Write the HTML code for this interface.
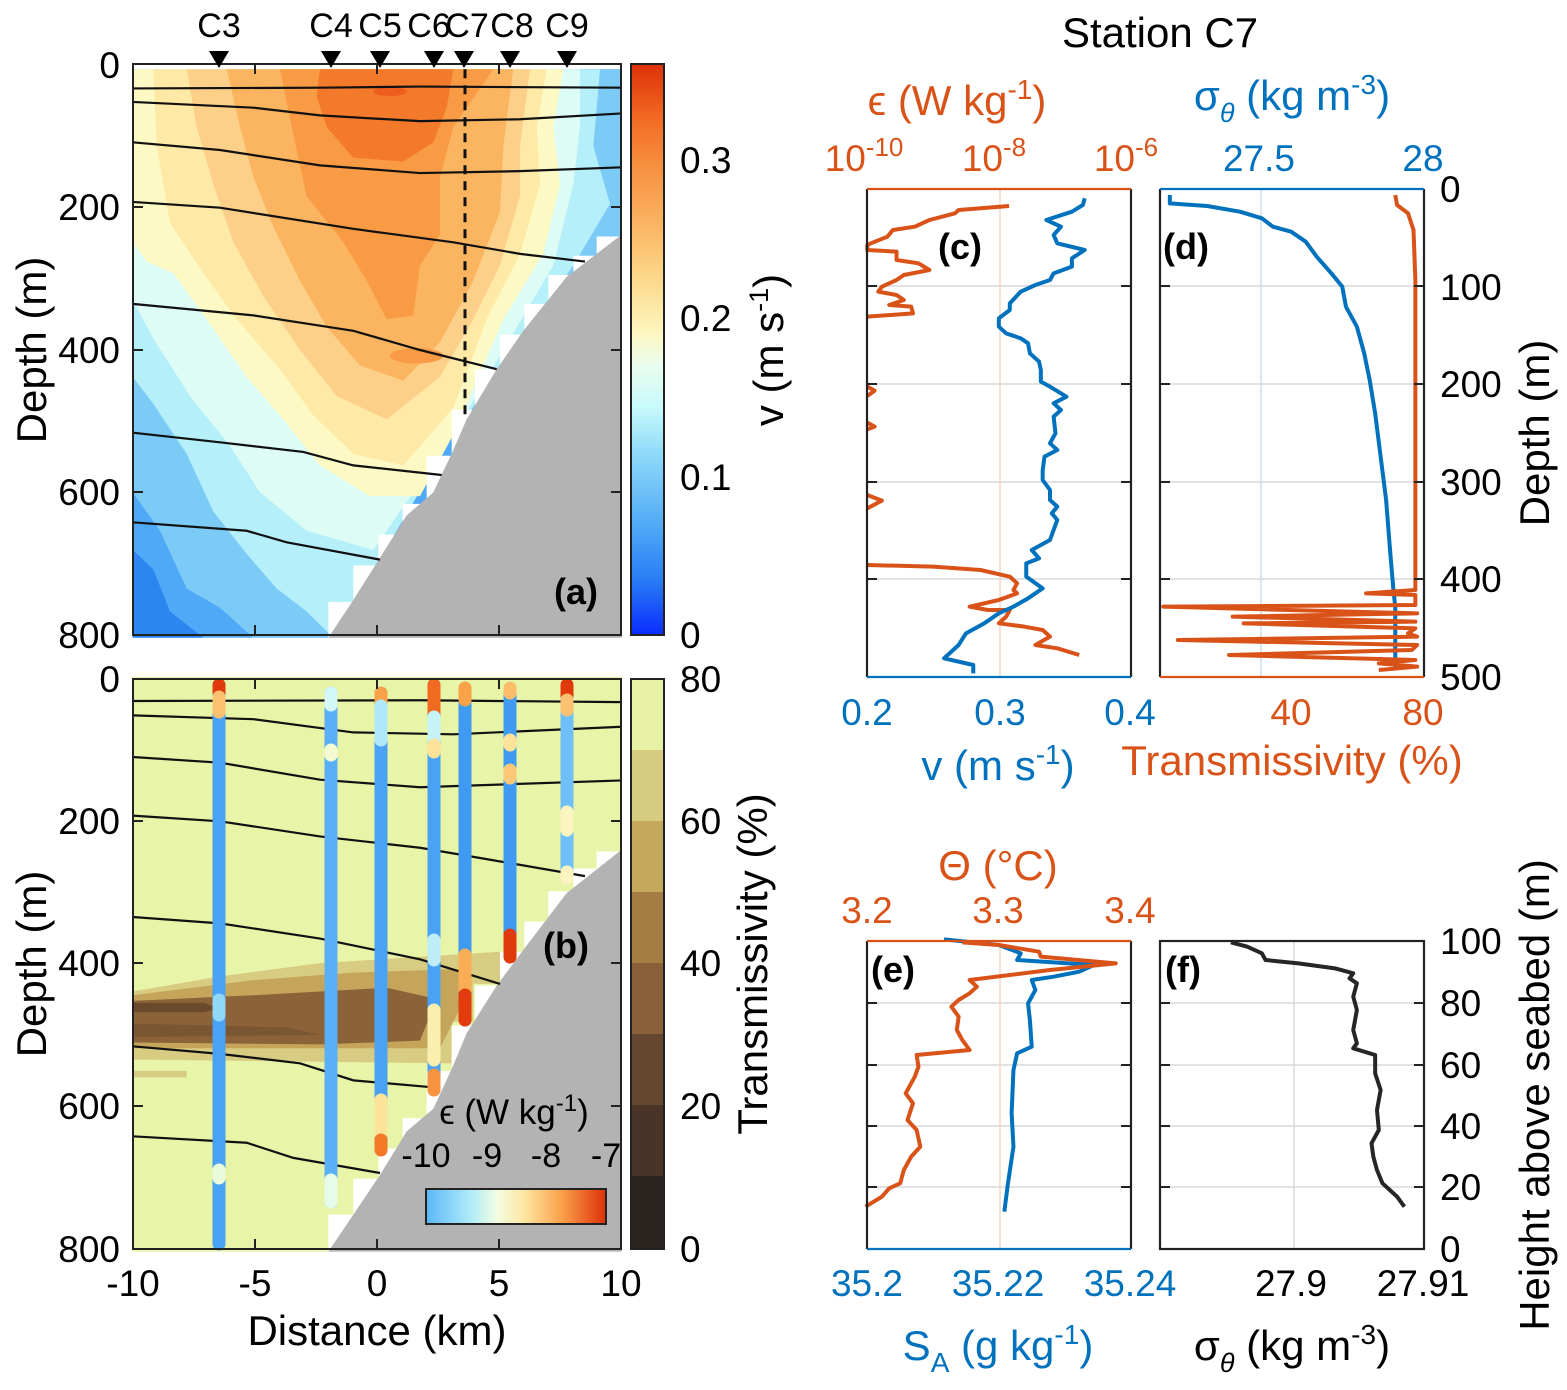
<!DOCTYPE html>
<html><head><meta charset="utf-8"><style>
body{margin:0;background:#fff}
svg{display:block}
text{font-family:"Liberation Sans",Arial,sans-serif;fill:#000}
.t{font-size:37px}
.L{font-size:42px}
.b{font-weight:bold;font-size:36px}
</style></head><body>
<svg width="1567" height="1390" viewBox="0 0 1567 1390" xmlns="http://www.w3.org/2000/svg">
<defs>
<linearGradient id="cba" x1="0" y1="1" x2="0" y2="0">
<stop offset="0" stop-color="#0a2cff"/><stop offset="0.1" stop-color="#2a7ff5"/><stop offset="0.2" stop-color="#55adf7"/><stop offset="0.32" stop-color="#90dbfa"/><stop offset="0.4" stop-color="#c8fafa"/><stop offset="0.47" stop-color="#e9fdf0"/><stop offset="0.53" stop-color="#fdf6c0"/><stop offset="0.62" stop-color="#fcd98c"/><stop offset="0.72" stop-color="#fbb462"/><stop offset="0.82" stop-color="#f79040"/><stop offset="0.9" stop-color="#f36d24"/><stop offset="1" stop-color="#dd3007"/>
</linearGradient>
<linearGradient id="cbe" x1="0" y1="0" x2="1" y2="0">
<stop offset="0" stop-color="#5ab8f8"/><stop offset="0.25" stop-color="#b0ecfa"/><stop offset="0.4" stop-color="#f4fde0"/><stop offset="0.55" stop-color="#fde6a0"/><stop offset="0.75" stop-color="#fba24c"/><stop offset="1" stop-color="#dd3007"/>
</linearGradient>
</defs>

<!-- ===== Panel a ===== -->
<g transform="translate(120,50) scale(0.33333,0.38462)">
<rect x="38" y="50" width="1467" height="1478" fill="#4fa9f7"/>
<polygon fill="#2b86f0" points="38,1300 100,1350 150,1460 250,1528 38,1528"/>
<polygon fill="#7ccbf7" points="38,50 1505,50 1505,480 1000,1000 640,1528 400,1528 300,1450 200,1400 120,1250 38,1150"/>
<polygon fill="#b5effa" points="38,50 1440,50 1420,250 1470,400 1360,560 1000,1000 640,1528 560,1460 470,1400 380,1310 280,1200 200,1050 100,920 38,850"/>
<polygon fill="#dcfcf5" points="38,50 1380,50 1380,200 1360,350 1300,560 1000,1000 760,1300 560,1250 420,1150 330,1030 210,900 100,750 38,650"/>
<polygon fill="#fdf9c4" points="38,50 1330,50 1300,200 1320,350 1270,530 1150,700 1000,1000 900,1160 750,1160 600,1080 480,950 380,850 260,700 160,580 80,550 38,500"/>
<polygon fill="#fee9a6" points="100,50 1280,50 1250,200 1260,350 1200,530 1100,700 1000,930 850,1080 700,1050 580,950 480,830 350,700 250,580 150,450 110,250"/>
<polygon fill="#fdd08a" points="200,50 1230,50 1200,250 1200,380 1140,560 1060,700 960,850 800,960 650,900 540,780 430,640 340,500 280,350 230,200"/>
<polygon fill="#fbb45f" points="320,50 1180,50 1150,250 1140,420 1060,600 960,760 850,860 720,820 620,720 540,600 460,460 400,330 360,200"/>
<polygon fill="#f99a45" points="480,50 1120,50 1000,200 960,330 960,480 900,560 880,690 800,700 740,600 670,500 560,380 520,220"/>
<polygon fill="#f47a2b" points="600,50 1000,50 980,150 940,240 850,290 700,280 620,200 590,120"/>
<ellipse cx="810" cy="108" rx="50" ry="12" fill="#ee5e1c"/>
<ellipse cx="890" cy="795" rx="80" ry="20" fill="#f99a45"/>
<polygon fill="#fff" points="625,1528 625,1435 700,1435 700,1340 775,1340 775,1260 848,1260 848,1180 920,1180 920,1055 995,1055 995,935 1065,935 1065,830 1140,830 1140,740 1213,740 1213,660 1285,660 1285,585 1360,585 1360,535 1430,535 1430,485 1505,485 1505,1528"/>
<polygon fill="#b3b3b3" points="625,1528 700,1430 780,1320 860,1210 940,1150 1000,1040 1040,960 1130,830 1210,730 1340,590 1505,480 1505,1528"/>
<g fill="none" stroke="#111" stroke-width="2.2">
<polyline vector-effect="non-scaling-stroke" points="38,100 600,98 900,95 1505,98"/>
<polyline vector-effect="non-scaling-stroke" points="38,135 400,150 600,170 900,185 1200,180 1505,165"/>
<polyline vector-effect="non-scaling-stroke" points="38,240 300,260 600,300 900,320 1200,315 1505,305"/>
<polyline vector-effect="non-scaling-stroke" points="38,395 300,410 700,465 1000,500 1200,530 1395,550"/>
<polyline vector-effect="non-scaling-stroke" points="38,660 400,690 700,730 900,780 1130,830"/>
<polyline vector-effect="non-scaling-stroke" points="38,995 300,1020 550,1045 700,1080 965,1105"/>
<polyline vector-effect="non-scaling-stroke" points="38,1228 380,1250 500,1280 780,1325"/>
</g>
<line x1="1035" y1="50" x2="1035" y2="950" stroke="#111" stroke-width="3" stroke-dasharray="9,7" vector-effect="non-scaling-stroke"/>
</g>
<rect x="133" y="64" width="488" height="571" fill="none" stroke="#222" stroke-width="2"/>
<g stroke="#222" stroke-width="2">
<line x1="255" y1="635" x2="255" y2="625"/><line x1="377" y1="635" x2="377" y2="625"/><line x1="499" y1="635" x2="499" y2="625"/>
<line x1="255" y1="64" x2="255" y2="74"/><line x1="377" y1="64" x2="377" y2="74"/><line x1="499" y1="64" x2="499" y2="74"/>
<line x1="133" y1="207" x2="143" y2="207"/><line x1="133" y1="350" x2="143" y2="350"/><line x1="133" y1="492" x2="143" y2="492"/>
<line x1="621" y1="207" x2="611" y2="207"/><line x1="621" y1="350" x2="611" y2="350"/><line x1="621" y1="492" x2="611" y2="492"/>
</g>
<text class="b" x="554" y="604">(a)</text>
<g fill="#000">
<polygon points="209,51 229,51 219,68"/><polygon points="321,51 341,51 331,68"/><polygon points="370,51 390,51 380,68"/><polygon points="424,51 444,51 434,68"/><polygon points="454,51 474,51 464,68"/><polygon points="500,51 520,51 510,68"/><polygon points="557,51 577,51 567,68"/>
</g>
<g text-anchor="middle" style="font-size:34px">
<text x="219" y="37">C3</text><text x="331" y="37">C4</text><text x="380" y="37">C5</text><text x="429" y="37">C6</text><text x="467" y="37">C7</text><text x="512" y="37">C8</text><text x="567" y="37">C9</text>
</g>
<rect x="631" y="64" width="33" height="571" fill="url(#cba)" stroke="#222" stroke-width="2"/>
<g class="t" text-anchor="start">
<text x="680" y="173">0.3</text><text x="680" y="331">0.2</text><text x="680" y="490">0.1</text><text x="680" y="648">0</text>
</g>
<text class="L" transform="translate(783,350) rotate(-90)" text-anchor="middle">v (m s<tspan dy="-15" font-size="27">-1</tspan><tspan dy="15">)</tspan></text>
<g class="t" text-anchor="end">
<text x="120" y="78">0</text><text x="120" y="220">200</text><text x="120" y="363">400</text><text x="120" y="505">600</text><text x="120" y="648">800</text>
<text x="120" y="692">0</text><text x="120" y="834">200</text><text x="120" y="976">400</text><text x="120" y="1119">600</text><text x="120" y="1262">800</text>
</g>
<text class="L" transform="translate(46,350) rotate(-90)" text-anchor="middle">Depth (m)</text>
<text class="L" transform="translate(46,964) rotate(-90)" text-anchor="middle">Depth (m)</text>

<!-- ===== Panel b ===== -->
<g transform="translate(120,670) scale(0.33333,0.37821)">
<rect x="38" y="18" width="1467" height="1520" fill="#e8f4a8"/>
<polygon fill="#d8cc82" points="38,850 300,810 600,775 1140,745 1140,830 1060,830 1060,930 995,930 995,1040 38,1030"/>
<rect x="38" y="1060" width="162" height="17" fill="#d8cc82"/>
<polygon fill="#c4a55a" points="38,860 400,820 700,800 1040,790 1040,860 960,1000 38,1000"/>
<polygon fill="#8c6239" points="38,875 400,860 800,840 950,870 900,980 600,990 38,985"/>
<polygon fill="#6b4a2c" points="38,880 250,880 300,895 250,905 38,905"/>
<polygon fill="#7a5633" points="38,935 500,945 600,965 38,970"/>
<polygon fill="#fff" points="625,1538 625,1440 700,1440 700,1345 775,1345 775,1265 848,1265 848,1185 920,1185 920,1060 995,1060 995,940 1065,940 1065,835 1140,835 1140,745 1213,745 1213,665 1285,665 1285,585 1360,585 1360,525 1430,525 1430,480 1505,480 1505,1538"/>
<polygon fill="#b3b3b3" points="625,1538 700,1440 780,1335 860,1220 940,1160 1000,1045 1040,960 1130,835 1210,740 1340,590 1505,475 1505,1538"/>
<g fill="none" stroke="#111" stroke-width="2.2">
<polyline vector-effect="non-scaling-stroke" points="38,82 900,80 1505,85"/>
<polyline vector-effect="non-scaling-stroke" points="38,120 400,130 700,165 1000,170 1505,150"/>
<polyline vector-effect="non-scaling-stroke" points="38,230 300,245 600,290 900,310 1505,292"/>
<polyline vector-effect="non-scaling-stroke" points="38,385 300,400 600,440 900,470 1100,500 1395,545"/>
<polyline vector-effect="non-scaling-stroke" points="38,653 300,670 600,710 900,765 1140,830"/>
<polyline vector-effect="non-scaling-stroke" points="38,995 300,1015 540,1040 700,1085 960,1105"/>
<polyline vector-effect="non-scaling-stroke" points="38,1233 380,1250 520,1290 780,1330"/>
</g>
</g>
<g stroke-linecap="round" stroke-width="13" fill="none">
<line x1="219" y1="685" x2="219" y2="1244" stroke="#4aa2f4"/>
<line x1="219" y1="685" x2="219" y2="692" stroke="#e03a0c"/><line x1="219" y1="697" x2="219" y2="712" stroke="#fbc070"/>
<line x1="219" y1="1000" x2="219" y2="1015" stroke="#8fd8fa"/><line x1="219" y1="1170" x2="219" y2="1178" stroke="#e9fbd8"/>
<line x1="331" y1="693" x2="331" y2="1202" stroke="#5ab0f6"/>
<line x1="331" y1="693" x2="331" y2="705" stroke="#d4f7f8"/><line x1="331" y1="750" x2="331" y2="755" stroke="#f5fbd0"/><line x1="331" y1="1180" x2="331" y2="1202" stroke="#e6fbe8"/>
<line x1="381" y1="693" x2="381" y2="1145" stroke="#4aa2f4"/>
<line x1="381" y1="693" x2="381" y2="703" stroke="#f9a24a"/><line x1="381" y1="706" x2="381" y2="740" stroke="#aee8fa"/><line x1="381" y1="1100" x2="381" y2="1135" stroke="#fde39a"/><line x1="381" y1="1140" x2="381" y2="1150" stroke="#f27a28"/>
<line x1="434" y1="685" x2="434" y2="1088" stroke="#4aa2f4"/>
<line x1="434" y1="685" x2="434" y2="712" stroke="#f06a20"/><line x1="434" y1="717" x2="434" y2="740" stroke="#c6f3f8"/><line x1="434" y1="745" x2="434" y2="752" stroke="#fde39a"/><line x1="434" y1="940" x2="434" y2="960" stroke="#bdeef8"/><line x1="434" y1="1010" x2="434" y2="1060" stroke="#fbefb0"/><line x1="434" y1="1075" x2="434" y2="1090" stroke="#f79440"/>
<line x1="465" y1="693" x2="465" y2="1020" stroke="#3f9af2"/>
<line x1="465" y1="688" x2="465" y2="700" stroke="#f9a24a"/><line x1="465" y1="955" x2="465" y2="990" stroke="#f9ad55"/><line x1="465" y1="995" x2="465" y2="1020" stroke="#e23c0e"/>
<line x1="510" y1="693" x2="510" y2="955" stroke="#3f9af2"/>
<line x1="510" y1="688" x2="510" y2="693" stroke="#fbbd6a"/><line x1="510" y1="740" x2="510" y2="745" stroke="#fde39a"/><line x1="510" y1="770" x2="510" y2="778" stroke="#fcc878"/><line x1="510" y1="935" x2="510" y2="957" stroke="#e03a0c"/>
<line x1="567" y1="685" x2="567" y2="876" stroke="#6fc0f8"/>
<line x1="567" y1="685" x2="567" y2="695" stroke="#e03a0c"/><line x1="567" y1="700" x2="567" y2="710" stroke="#fbc070"/><line x1="567" y1="812" x2="567" y2="830" stroke="#fbf4c0"/><line x1="567" y1="872" x2="567" y2="878" stroke="#fbf4c0"/>
</g>
<rect x="133" y="679" width="488" height="570" fill="none" stroke="#222" stroke-width="2"/>
<g stroke="#222" stroke-width="2">
<line x1="255" y1="1249" x2="255" y2="1239"/><line x1="377" y1="1249" x2="377" y2="1239"/><line x1="499" y1="1249" x2="499" y2="1239"/>
<line x1="255" y1="679" x2="255" y2="689"/><line x1="377" y1="679" x2="377" y2="689"/><line x1="499" y1="679" x2="499" y2="689"/>
<line x1="133" y1="821" x2="143" y2="821"/><line x1="133" y1="963" x2="143" y2="963"/><line x1="133" y1="1106" x2="143" y2="1106"/>
<line x1="621" y1="821" x2="611" y2="821"/><line x1="621" y1="963" x2="611" y2="963"/><line x1="621" y1="1106" x2="611" y2="1106"/>
</g>
<text class="b" x="543" y="958">(b)</text>
<rect x="426" y="1189" width="180" height="35" fill="url(#cbe)" stroke="#222" stroke-width="2"/>
<text x="514" y="1124" text-anchor="middle" style="font-size:35px">ϵ (W kg<tspan dy="-13" font-size="24">-1</tspan><tspan dy="13">)</tspan></text>
<g text-anchor="middle" style="font-size:34px"><text x="426" y="1167">-10</text><text x="487" y="1167">-9</text><text x="546" y="1167">-8</text><text x="606" y="1167">-7</text></g>
<g class="t" text-anchor="middle"><text x="133" y="1296">-10</text><text x="255" y="1296">-5</text><text x="377" y="1296">0</text><text x="499" y="1296">5</text><text x="621" y="1296">10</text></g>
<text class="L" x="377" y="1345" text-anchor="middle">Distance (km)</text>
<g>
<rect x="631" y="679" width="33" height="72" fill="#e8f2a6"/>
<rect x="631" y="750" width="33" height="72" fill="#d6cb80"/>
<rect x="631" y="821" width="33" height="72" fill="#c4a85c"/>
<rect x="631" y="892" width="33" height="72" fill="#a47d45"/>
<rect x="631" y="963" width="33" height="72" fill="#8a603a"/>
<rect x="631" y="1034" width="33" height="72" fill="#66472f"/>
<rect x="631" y="1105" width="33" height="72" fill="#4a3428"/>
<rect x="631" y="1176" width="33" height="73" fill="#2a2320"/>
<rect x="631" y="679" width="33" height="570" fill="none" stroke="#222" stroke-width="2"/>
</g>
<g class="t" text-anchor="start"><text x="680" y="692">80</text><text x="680" y="834">60</text><text x="680" y="976">40</text><text x="680" y="1119">20</text><text x="680" y="1262">0</text></g>
<text class="L" transform="translate(767,964) rotate(-90)" text-anchor="middle">Transmissivity (%)</text>

<!-- ===== Right side ===== -->
<text class="L" x="1160" y="47" text-anchor="middle">Station C7</text>
<g stroke="#d8d8d8" stroke-width="1.5"><line x1="867" y1="286" x2="1131" y2="286"/><line x1="867" y1="384" x2="1131" y2="384"/><line x1="867" y1="482" x2="1131" y2="482"/><line x1="867" y1="579" x2="1131" y2="579"/>
<line x1="1160" y1="286" x2="1424" y2="286"/><line x1="1160" y1="384" x2="1424" y2="384"/><line x1="1160" y1="482" x2="1424" y2="482"/><line x1="1160" y1="579" x2="1424" y2="579"/>
<line x1="867" y1="1003" x2="1131" y2="1003"/><line x1="867" y1="1065" x2="1131" y2="1065"/><line x1="867" y1="1126" x2="1131" y2="1126"/><line x1="867" y1="1187" x2="1131" y2="1187"/>
<line x1="1160" y1="1003" x2="1424" y2="1003"/><line x1="1160" y1="1065" x2="1424" y2="1065"/><line x1="1160" y1="1126" x2="1424" y2="1126"/><line x1="1160" y1="1187" x2="1424" y2="1187"/>
<line x1="1294" y1="941" x2="1294" y2="1249"/></g>
<line x1="1000" y1="189" x2="1000" y2="677" stroke="#f6d5c6" stroke-width="1.5"/>
<line x1="1261" y1="189" x2="1261" y2="677" stroke="#c9def0" stroke-width="1.5"/>
<line x1="1000" y1="941" x2="1000" y2="1249" stroke="#f6d5c6" stroke-width="1.5"/>
<g transform="translate(860,180) scale(0.36536,0.33333)" fill="none" stroke-width="4" stroke-linejoin="round">
<polyline vector-effect="non-scaling-stroke" stroke="#d95319" points="408,78 270,90 260,100 190,120 150,140 90,150 75,170 30,190 20,195 20,210 100,215 100,240 160,250 190,270 120,285 100,300 60,320 50,335 100,345 120,360 80,375 140,380 145,400 20,410"/>
<polyline vector-effect="non-scaling-stroke" stroke="#d95319" points="20,620 40,632 20,648"/>
<polyline vector-effect="non-scaling-stroke" stroke="#d95319" points="20,728 40,740 20,748"/>
<polyline vector-effect="non-scaling-stroke" stroke="#d95319" points="20,945 60,962 20,985"/>
<polyline vector-effect="non-scaling-stroke" stroke="#d95319" points="20,1155 200,1160 330,1170 410,1190 430,1210 420,1230 430,1240 380,1260 300,1280 350,1290 410,1290 400,1310 380,1330 450,1340 500,1350 520,1370 480,1395 540,1405 600,1425"/>
<polyline vector-effect="non-scaling-stroke" stroke="#0072bd" points="615,55 610,75 580,95 510,120 550,140 530,165 540,190 615,210 580,235 580,260 530,280 520,300 480,315 440,335 410,370 410,390 380,415 380,440 400,460 440,475 460,490 465,520 490,545 495,570 495,605 520,620 565,650 530,670 550,690 530,710 535,760 520,790 540,810 505,830 500,870 500,900 520,930 520,960 540,980 525,1000 540,1020 520,1080 470,1110 490,1135 455,1150 455,1190 500,1225 460,1255 420,1280 380,1300 340,1330 290,1360 270,1395 230,1435 310,1455 310,1480"/>
<polyline vector-effect="non-scaling-stroke" stroke="#0072bd" points="848,45 848,70 950,78 1040,95 1100,115 1130,140 1180,155 1220,185 1250,230 1290,280 1320,320 1330,380 1360,440 1380,520 1395,600 1410,700 1425,830 1440,960 1450,1100 1460,1230 1465,1280 1465,1470"/>
<polyline vector-effect="non-scaling-stroke" stroke="#d95319" points="1465,45 1470,75 1500,100 1515,150 1520,300 1520,1230 1385,1240 1520,1245 1520,1275 830,1280 1525,1300 1020,1310 1520,1325 1050,1330 1520,1345 1500,1360 1525,1370 870,1380 1525,1395 1510,1410 1010,1425 1520,1440 1420,1450 1525,1460 1420,1470"/>
</g>
<g transform="translate(860,930) scale(0.36536,0.33333)" fill="none" stroke-width="4" stroke-linejoin="round">
<polyline vector-effect="non-scaling-stroke" stroke="#0072bd" points="230,28 380,45 440,70 430,90 640,105 600,125 530,140 470,150 480,180 460,220 465,270 470,350 430,370 420,420 415,550 420,650 405,760 395,845"/>
<polyline vector-effect="non-scaling-stroke" stroke="#d95319" points="280,37 380,45 490,65 495,80 700,100 520,120 300,150 320,170 300,190 270,210 250,230 270,260 265,300 280,330 300,360 155,375 160,410 150,440 125,490 145,520 130,570 155,600 165,650 140,680 120,720 110,760 80,775 60,800 15,830"/>
<polyline vector-effect="non-scaling-stroke" stroke="#262626" points="1015,37 1060,50 1100,70 1110,90 1200,100 1300,115 1350,130 1340,145 1360,160 1350,200 1360,240 1350,300 1360,340 1350,355 1410,375 1410,430 1425,480 1415,540 1420,600 1400,640 1405,680 1415,720 1430,760 1450,780 1470,800 1490,830"/>
</g>
<g fill="none" stroke-width="2.2">
<line x1="867" y1="189" x2="867" y2="677" stroke="#222"/><line x1="1131" y1="189" x2="1131" y2="677" stroke="#222"/>
<line x1="867" y1="189" x2="1131" y2="189" stroke="#d95319"/><line x1="867" y1="677" x2="1131" y2="677" stroke="#0072bd"/>
<line x1="1160" y1="189" x2="1160" y2="677" stroke="#222"/><line x1="1424" y1="189" x2="1424" y2="677" stroke="#222"/>
<line x1="1160" y1="189" x2="1424" y2="189" stroke="#0072bd"/><line x1="1160" y1="677" x2="1424" y2="677" stroke="#d95319"/>
<line x1="867" y1="941" x2="867" y2="1249" stroke="#222"/><line x1="1131" y1="941" x2="1131" y2="1249" stroke="#222"/>
<line x1="867" y1="941" x2="1131" y2="941" stroke="#d95319"/><line x1="867" y1="1249" x2="1131" y2="1249" stroke="#0072bd"/>
<rect x="1160" y="941" width="264" height="308" stroke="#222"/>
</g>
<g stroke="#222" stroke-width="2">
<line x1="867" y1="286" x2="877" y2="286"/><line x1="867" y1="384" x2="877" y2="384"/><line x1="867" y1="482" x2="877" y2="482"/><line x1="867" y1="579" x2="877" y2="579"/>
<line x1="1131" y1="286" x2="1121" y2="286"/><line x1="1131" y1="384" x2="1121" y2="384"/><line x1="1131" y1="482" x2="1121" y2="482"/><line x1="1131" y1="579" x2="1121" y2="579"/>
<line x1="1160" y1="286" x2="1170" y2="286"/><line x1="1160" y1="384" x2="1170" y2="384"/><line x1="1160" y1="482" x2="1170" y2="482"/><line x1="1160" y1="579" x2="1170" y2="579"/>
<line x1="1424" y1="286" x2="1414" y2="286"/><line x1="1424" y1="384" x2="1414" y2="384"/><line x1="1424" y1="482" x2="1414" y2="482"/><line x1="1424" y1="579" x2="1414" y2="579"/>
<line x1="867" y1="1003" x2="877" y2="1003"/><line x1="867" y1="1065" x2="877" y2="1065"/><line x1="867" y1="1126" x2="877" y2="1126"/><line x1="867" y1="1187" x2="877" y2="1187"/>
<line x1="1131" y1="1003" x2="1121" y2="1003"/><line x1="1131" y1="1065" x2="1121" y2="1065"/><line x1="1131" y1="1126" x2="1121" y2="1126"/><line x1="1131" y1="1187" x2="1121" y2="1187"/>
<line x1="1160" y1="1003" x2="1170" y2="1003"/><line x1="1160" y1="1065" x2="1170" y2="1065"/><line x1="1160" y1="1126" x2="1170" y2="1126"/><line x1="1160" y1="1187" x2="1170" y2="1187"/>
<line x1="1424" y1="1003" x2="1414" y2="1003"/><line x1="1424" y1="1065" x2="1414" y2="1065"/><line x1="1424" y1="1126" x2="1414" y2="1126"/><line x1="1424" y1="1187" x2="1414" y2="1187"/>
</g>
<text class="b" x="938" y="259">(c)</text><text class="b" x="1163" y="259">(d)</text>
<text class="b" x="871" y="982">(e)</text><text class="b" x="1165" y="982">(f)</text>
<g text-anchor="middle">
<text class="L" x="957" y="115" style="fill:#d95319">ϵ (W kg<tspan dy="-16" font-size="28">-1</tspan><tspan dy="16">)</tspan></text>
<text class="t" x="864" y="171" style="fill:#d95319">10<tspan dy="-15" font-size="26">-10</tspan></text>
<text class="t" x="994" y="171" style="fill:#d95319">10<tspan dy="-15" font-size="26">-8</tspan></text>
<text class="t" x="1126" y="171" style="fill:#d95319">10<tspan dy="-15" font-size="26">-6</tspan></text>
<text class="t" x="1291" y="725" style="fill:#d95319">40</text><text class="t" x="1423" y="725" style="fill:#d95319">80</text>
<text class="L" x="1292" y="775" style="fill:#d95319">Transmissivity (%)</text>
<text class="L" x="998" y="880" style="fill:#d95319">Θ (°C)</text>
<text class="t" x="867" y="923" style="fill:#d95319">3.2</text><text class="t" x="998" y="923" style="fill:#d95319">3.3</text><text class="t" x="1130" y="923" style="fill:#d95319">3.4</text>
<text class="L" x="1292" y="110" style="fill:#0072bd">σ<tspan dy="12" font-size="27" font-style="italic">θ</tspan><tspan dy="-12"> (kg m</tspan><tspan dy="-16" font-size="28">-3</tspan><tspan dy="16">)</tspan></text>
<text class="t" x="1259" y="171" style="fill:#0072bd">27.5</text><text class="t" x="1423" y="171" style="fill:#0072bd">28</text>
<text class="t" x="867" y="725" style="fill:#0072bd">0.2</text><text class="t" x="1000" y="725" style="fill:#0072bd">0.3</text><text class="t" x="1130" y="725" style="fill:#0072bd">0.4</text>
<text class="L" x="998" y="780" style="fill:#0072bd">v (m s<tspan dy="-16" font-size="28">-1</tspan><tspan dy="16">)</tspan></text>
<text class="t" x="867" y="1296" style="fill:#0072bd">35.2</text><text class="t" x="998" y="1296" style="fill:#0072bd">35.22</text><text class="t" x="1130" y="1296" style="fill:#0072bd">35.24</text>
<text class="L" x="998" y="1360" style="fill:#0072bd">S<tspan dy="12" font-size="28">A</tspan><tspan dy="-12"> (g kg</tspan><tspan dy="-16" font-size="28">-1</tspan><tspan dy="16">)</tspan></text>
<text class="t" x="1291" y="1296">27.9</text><text class="t" x="1423" y="1296">27.91</text>
<text class="L" x="1292" y="1360">σ<tspan dy="12" font-size="27" font-style="italic">θ</tspan><tspan dy="-12"> (kg m</tspan><tspan dy="-16" font-size="28">-3</tspan><tspan dy="16">)</tspan></text>
</g>
<g class="t" text-anchor="start">
<text x="1440" y="202">0</text><text x="1440" y="300">100</text><text x="1440" y="397">200</text><text x="1440" y="495">300</text><text x="1440" y="592">400</text><text x="1440" y="690">500</text>
<text x="1440" y="954">100</text><text x="1440" y="1016">80</text><text x="1440" y="1078">60</text><text x="1440" y="1139">40</text><text x="1440" y="1200">20</text><text x="1440" y="1262">0</text>
</g>
<text class="L" transform="translate(1549,433) rotate(-90)" text-anchor="middle">Depth (m)</text>
<text class="L" transform="translate(1549,1095) rotate(-90)" text-anchor="middle">Height above seabed (m)</text>
</svg>
</body></html>
